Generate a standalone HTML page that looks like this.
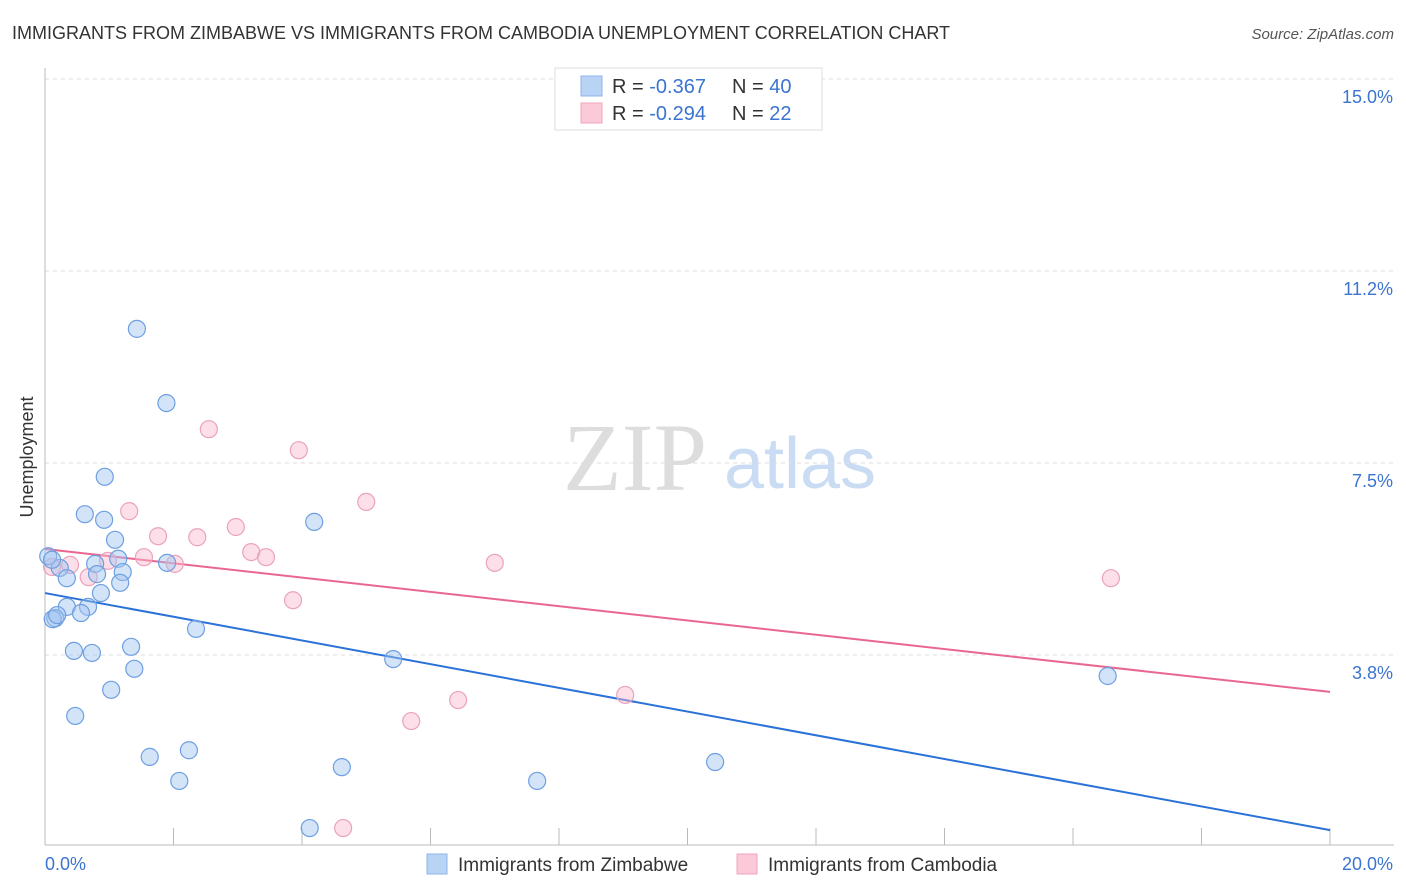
<!DOCTYPE html>
<html><head><meta charset="utf-8"><style>
body{margin:0;background:#fff;font-family:"Liberation Sans",sans-serif;}
svg{display:block}
</style></head><body>
<svg id="chart" width="1406" height="892">
<text x="12" y="39" font-size="18" fill="#333">IMMIGRANTS FROM ZIMBABWE VS IMMIGRANTS FROM CAMBODIA UNEMPLOYMENT CORRELATION CHART</text>
<text x="1394" y="39" font-size="15" fill="#555" font-style="italic" text-anchor="end">Source: ZipAtlas.com</text>
<text x="33" y="457" font-size="18" fill="#333" text-anchor="middle" transform="rotate(-90 33 457)">Unemployment</text>
<g>
<text x="635" y="490" font-size="96" fill="#ddd" font-family="Liberation Serif,serif" text-anchor="middle">ZIP</text>
<text x="800" y="488" font-size="72" fill="#c9dcf3" text-anchor="middle">atlas</text>
</g>
<g id="grid"></g><g id="axes"></g><g id="lines"></g><g id="pts"></g>
<g>
<rect x="555" y="68" width="267" height="62" fill="#fff" stroke="#ddd"/>
<rect x="581" y="76" width="21" height="20" fill="#b9d3f5" stroke="#8db4ea"/>
<rect x="581" y="103" width="21" height="20" fill="#fcc9d8" stroke="#f0a5bd"/>
<text x="612" y="93" font-size="20" fill="#333">R = <tspan fill="#3b74d1">-0.367</tspan><tspan x="732">N = </tspan><tspan fill="#3b74d1">40</tspan></text>
<text x="612" y="120" font-size="20" fill="#333">R = <tspan fill="#3b74d1">-0.294</tspan><tspan x="732">N = </tspan><tspan fill="#3b74d1"> 22</tspan></text>
</g>
<g>
<rect x="427" y="854" width="20" height="20" fill="#b9d3f5" stroke="#8db4ea"/>
<text x="458" y="871" font-size="19" fill="#333">Immigrants from Zimbabwe</text>
<rect x="737" y="854" width="20" height="20" fill="#fcc9d8" stroke="#f0a5bd"/>
<text x="768" y="871" font-size="19" fill="#333">Immigrants from Cambodia</text>
</g>
</svg>
<script>
const yTicks=[3.75,7.5,11.25,15];
const yTickLabels=["3.8%","7.5%","11.2%","15.0%"];
const xTickLabels=["0.0%","20.0%"];
const zimX=[1.43,1.89,0.93,0.62,0.92,4.19,1.09,1.14,0.78,1.90,0.05,0.23,0.81,1.21,0.34,1.17,0.87,0.67,0.34,0.56,0.16,0.12,2.35,1.34,0.45,0.73,5.42,1.39,16.54,1.03,0.47,2.24,1.63,10.43,4.62,2.09,7.66,4.12,0.19,0.11];
const zimY=[10.12,8.67,7.23,6.50,6.39,6.35,6.00,5.63,5.53,5.55,5.68,5.45,5.33,5.37,5.25,5.16,4.96,4.69,4.69,4.57,4.47,4.45,4.26,3.91,3.83,3.79,3.67,3.48,3.34,3.07,2.56,1.89,1.76,1.66,1.56,1.29,1.29,0.37,4.53,5.61];
const camX=[2.55,3.95,5.00,1.31,2.97,1.76,2.37,3.21,1.54,3.44,2.02,7.00,0.98,0.39,0.11,0.68,16.59,3.86,9.03,6.43,5.70,4.64];
const camY=[8.16,7.75,6.74,6.56,6.25,6.07,6.05,5.76,5.66,5.66,5.53,5.55,5.59,5.51,5.47,5.27,5.25,4.82,2.97,2.87,2.46,0.37];
const zimTrend=[4.96,0.33];
const camTrend=[5.82,3.03];
const NS="http://www.w3.org/2000/svg";
const X=v=>45+v/20*1285, Y=v=>847-v/3.75*192;
function mk(p,t,a){const e=document.createElementNS(NS,t);for(const k in a)e.setAttribute(k,a[k]);document.getElementById(p).appendChild(e);return e;}
yTicks.forEach((t,i)=>{
 const g=mk('grid','line',{x1:45,x2:1394,y1:Y(t),y2:Y(t),stroke:'#ddd','stroke-dasharray':'4 4'});
 
 
 const l=mk('axes','text',{x:1393,y:Y(t)+24,'font-size':18,fill:'#3b74d1','text-anchor':'end'});
 l.textContent=yTickLabels[i];
 
 
});
const ya=mk('axes','line',{x1:45,x2:45,y1:68,y2:845,stroke:'#bbb'});


const xa=mk('axes','line',{x1:45,x2:1394,y1:845,y2:845,stroke:'#bbb'});


for(let i=0;i<=10;i++){
 const t=mk('axes','line',{x1:X(i*2),x2:X(i*2),y1:828,y2:845,stroke:'#bbb'});
 
 
}
[[0,'start',45],[20,'end',1393]].forEach((d,i)=>{
 const l=mk('axes','text',{x:d[2],y:870,'font-size':18,fill:'#3b74d1','text-anchor':d[1]});
 l.textContent=xTickLabels[i];
 
 
});
function pts(xs,ys,fill,stroke,name){
 xs.forEach((x,i)=>{
  const c=mk('pts','circle',{cx:X(x),cy:Y(ys[i]),r:8.5,fill:fill,stroke:stroke,'stroke-width':1.2});
  
  
 });
}
pts(camX,camY,'rgba(248,185,205,0.45)','#eba2bb','point-cambodia');
pts(zimX,zimY,'rgba(160,195,240,0.45)','#6d9fe2','point-zimbabwe');
const t1=mk('lines','line',{x1:X(0),x2:X(20),y1:Y(zimTrend[0]),y2:Y(zimTrend[1]),stroke:'#2a72d8','stroke-width':2});


const t2=mk('lines','line',{x1:X(0),x2:X(20),y1:Y(camTrend[0]),y2:Y(camTrend[1]),stroke:'#e9668f','stroke-width':2});


</script>
</body></html>
